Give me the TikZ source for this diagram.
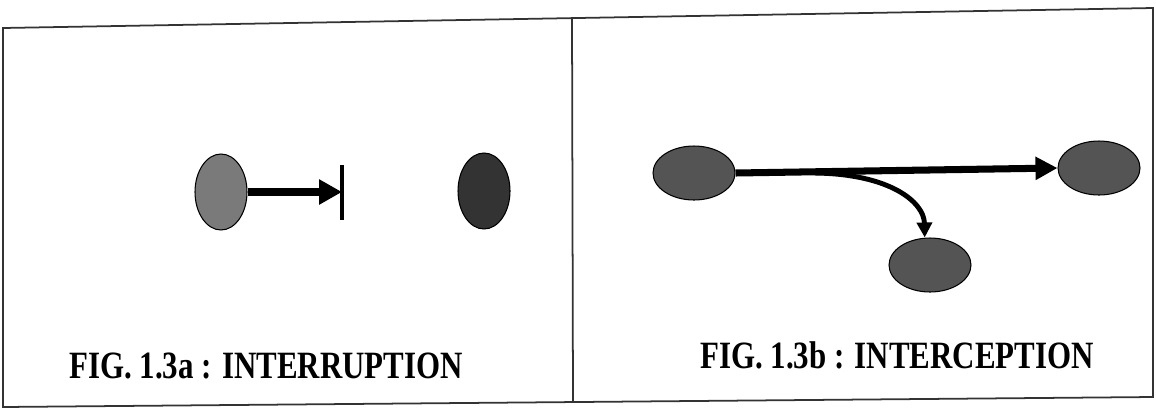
\documentclass[tikz,border=0pt]{standalone}
\usepackage{fontspec}
\setmainfont{Liberation Serif}
\usetikzlibrary{shapes.geometric, arrows.meta, positioning}

\begin{document}
\begin{tikzpicture}[x=0.02cm, y=-0.02cm,
  tall/.style={ellipse,draw=black,line width=0.6pt,inner sep=0pt, minimum width=1.04cm,minimum height=1.52cm},
  flat/.style={ellipse,draw=black,line width=0.6pt,inner sep=0pt, minimum width=1.64cm,minimum height=1.08cm,fill=black!67},
  fatarr/.style={-{Triangle[length=0.46cm,width=0.48cm]},line width=5pt},
  longarr/.style={-{Triangle[length=0.44cm,width=0.44cm]},line width=4pt},
  curvarr/.style={-{Triangle[length=0.3cm,width=0.3cm]},line width=2.8pt},
  boxline/.style={line width=1pt,draw=black!80},
  figcap/.style={font=\fontsize{22}{26}\selectfont\bfseries, anchor=base, inner sep=0pt}
]
  \useasboundingbox (0,0) rectangle (1156,410);
  % frame and divider
  \draw[boxline] (3,28) -- (1153,8) -- (1153,397) -- (3,407) -- cycle;
  \draw[boxline] (572,18) -- (573,402);

  % fig 1.3a
  \node[tall,fill=black!52](srcA) at (221,192) {};
  \node[tall,fill=black!80](dstA) at (484,191) {};
  \coordinate (stop) at (342,192);
  \draw[fatarr] (srcA.east) -- (stop);
  \draw[line width=2pt] (stop) ++(0,-27) -- ++(0,55);
  \node[figcap](capA) at (266,378) {\scalebox{0.8}[1]{FIG. 1.3a : INTERRUPTION}};

  % fig 1.3b
  \node[flat](srcB) at (694,173) {};
  \node[flat](dstB) at (1099,168) {};
  \node[flat](lowB) at (930,265) {};
  \draw[longarr] (srcB.east) -- (dstB.west);
  \coordinate (branch) at (815,173);
  \draw[curvarr] (branch) .. controls (890,174) and (924,202) .. ([xshift=-3pt]lowB.north);
  \node[figcap](capB) at (897,368) {\scalebox{0.8}[1]{FIG. 1.3b : INTERCEPTION}};
\end{tikzpicture}
\end{document}
